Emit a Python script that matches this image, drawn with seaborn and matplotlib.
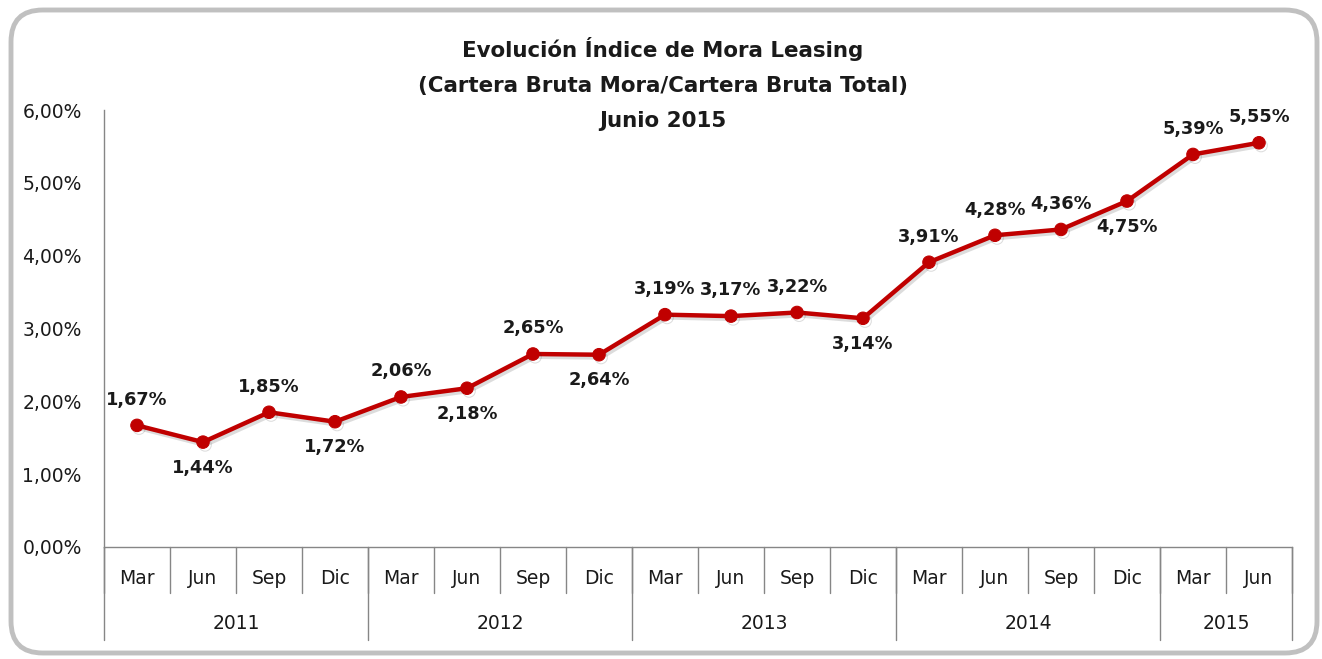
import seaborn as sns
import matplotlib.pyplot as plt
import matplotlib.patheffects as pe
from matplotlib.patches import FancyBboxPatch
from matplotlib.ticker import FuncFormatter
from pandas import DataFrame

months = ['Mar', 'Jun', 'Sep', 'Dic'] * 4 + ['Mar', 'Jun']
years = ['2011', '2012', '2013', '2014', '2015']
year_counts = [4, 4, 4, 4, 2]
mora = [1.67, 1.44, 1.85, 1.72, 2.06, 2.18, 2.65, 2.64, 3.19,
        3.17, 3.22, 3.14, 3.91, 4.28, 4.36, 4.75, 5.39, 5.55]
label_above = [True, False, True, False, True, False, True, False, True,
               True, True, False, True, True, True, False, True, True]
title_lines = ['Evolución Índice de Mora Leasing',
               '(Cartera Bruta Mora/Cartera Bruta Total)',
               'Junio 2015']

RED = '#C00000'
GRID = '#868686'
TXT = '#1a1a1a'

sns.set_theme(style='white')
plt.rcParams['font.family'] = ['DejaVu Sans']

data = DataFrame({'pos': range(len(mora)), 'mora': mora})

fig = plt.figure(figsize=(13.22, 6.59), dpi=100)
ax = fig.add_axes([104 / 1322, 1 - 547 / 659, (1292 - 104) / 1322, (547 - 110) / 659])

sns.lineplot(
    data=data,
    x='pos',
    y='mora',
    color=RED,
    linewidth=3.2,
    marker='o',
    markersize=9,
    markeredgecolor=RED,
    ax=ax,
    path_effects=[pe.SimpleLineShadow(offset=(1.5, -2), alpha=0.15), pe.Normal()],
)

for i, (v, up) in enumerate(zip(mora, label_above)):
    ax.annotate(
        f'{v:.2f}%'.replace('.', ','),
        (i, v),
        xytext=(0, 18.5 if up else -18.5),
        textcoords='offset points',
        ha='center', va='center',
        fontsize=12.8, fontweight='bold', color=TXT,
    )

ax.set_xlim(-0.5, len(mora) - 0.5)
ax.set_ylim(0, 6)
ax.set_yticks([0, 1, 2, 3, 4, 5, 6])
ax.yaxis.set_major_formatter(FuncFormatter(lambda v, _: f'{v:.2f}%'.replace('.', ',')))
ax.tick_params(axis='y', length=0, pad=16, labelsize=13.5, labelcolor=TXT)
ax.set_xticks([])
ax.set_xlabel('')
ax.set_ylabel('')

for s in ['top', 'right']:
    ax.spines[s].set_visible(False)
for s in ['left', 'bottom']:
    ax.spines[s].set_color(GRID)
    ax.spines[s].set_linewidth(1)

# multi-level category axis
trans = ax.get_xaxis_transform()
for i, m in enumerate(months):
    ax.text(i, -0.071, m, transform=trans, ha='center', va='center',
            fontsize=13.5, color=TXT)
for b in range(len(months) + 1):
    ax.plot([b - 0.5, b - 0.5], [0, -0.105], transform=trans,
            color=GRID, lw=1, clip_on=False)

start = 0
for y, n in zip(years, year_counts):
    ax.text(start + n / 2 - 0.5, -0.176, y, transform=trans, ha='center',
            va='center', fontsize=13.5, color=TXT)
    ax.plot([start - 0.5, start - 0.5], [0, -0.213], transform=trans,
            color=GRID, lw=1, clip_on=False)
    start += n
ax.plot([start - 0.5, start - 0.5], [0, -0.213], transform=trans,
        color=GRID, lw=1, clip_on=False)

for line, ypx in zip(title_lines, [49, 86, 121]):
    fig.text(663 / 1322, 1 - ypx / 659, line, ha='center', va='center',
             fontsize=15.4, fontweight='bold', color=TXT)

border = FancyBboxPatch((11 / 1322, 6 / 659), 1306 / 1322, 643 / 659,
                        boxstyle='round,pad=0,rounding_size=0.024',
                        transform=fig.transFigure, fill=False,
                        edgecolor='#C0C0C0', linewidth=3.5,
                        mutation_aspect=1322 / 659)
fig.patches.append(border)

fig.savefig('out.png', dpi=100)
